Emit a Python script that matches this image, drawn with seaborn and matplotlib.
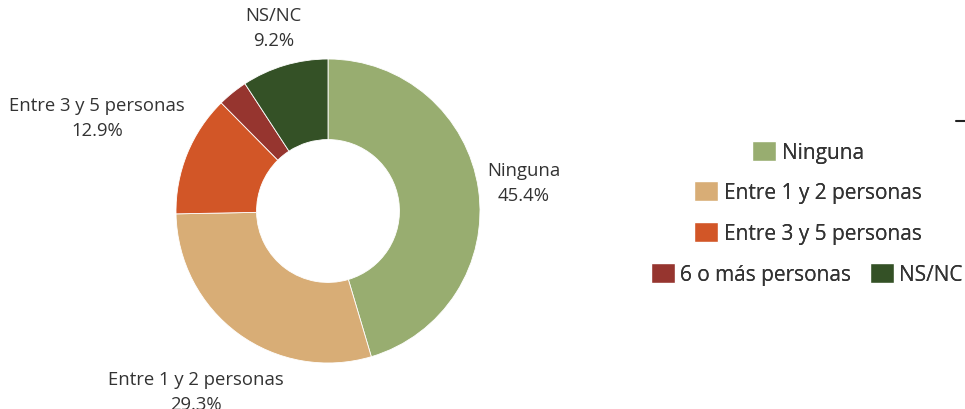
import numpy as np
import matplotlib
matplotlib.use('Agg')
import matplotlib.pyplot as plt
from matplotlib.patches import Patch
from matplotlib.lines import Line2D
import seaborn as sns

# datos del grafico
categorias = ['Ninguna', 'Entre 1 y 2 personas', 'Entre 3 y 5 personas', '6 o más personas', 'NS/NC']
valores = [45.4, 29.3, 12.9, 3.2, 9.2]
colores = ['#98ad70', '#d8ad76', '#d25627', '#96352f', '#345126']
etiquetas_visibles = [True, True, True, False, True]

sns.set_theme(style='white')
plt.rcParams['font.family'] = ['Open Sans', 'DejaVu Sans']

fig = plt.figure(figsize=(9.65, 4.10), dpi=100)
# eje del donut (centro ~ (328,212) px, radio 152 px)
ax = fig.add_axes([(328 - 152) / 965, (410 - 212 - 152) / 410, 304 / 965, 304 / 410])

wedges, _ = ax.pie(valores, colors=colores, startangle=90, counterclock=False,
                   radius=1, wedgeprops=dict(width=0.53, edgecolor='white', linewidth=0.6))
ax.set_aspect('equal')
ax.set_xlim(-1, 1)
ax.set_ylim(-1, 1)
ax.axis('off')

# etiquetas de las porciones
distancias = [1.3, 1.47, 1.64, 1.3, 1.26]
for w, cat, val, vis, d in zip(wedges, categorias, valores, etiquetas_visibles, distancias):
    if not vis:
        continue
    ang = np.deg2rad((w.theta1 + w.theta2) / 2)
    ax.text(d * np.cos(ang), d * np.sin(ang), f'{cat}\n{val}%', ha='center', va='center',
            fontsize=13.3, color='#333333', linespacing=1.5, clip_on=False)

# leyenda en filas centradas
handles = [Patch(facecolor=c, edgecolor='white') for c in colores]
filas = [([0], 808, 153), ([1], 808, 193), ([2], 808, 234), ([3, 4], 807, 275)]
for idx, xc, yc in filas:
    leg = fig.legend([handles[i] for i in idx], [categorias[i] for i in idx],
                     loc='center', bbox_to_anchor=(xc / 965, 1 - yc / 410),
                     ncol=len(idx), frameon=False, fontsize=15,
                     handlelength=1.15, handleheight=1.15, handletextpad=0.25,
                     columnspacing=0.9, borderpad=0)
    for t in leg.get_texts():
        t.set_color('#333333')
    fig.add_artist(leg)

# pequena marca recortada en el borde derecho
fig.add_artist(Line2D([956 / 965, 1.0], [1 - 122 / 410, 1 - 122 / 410], color='#222222', lw=1.5))

fig.savefig('out.png', dpi=100)
